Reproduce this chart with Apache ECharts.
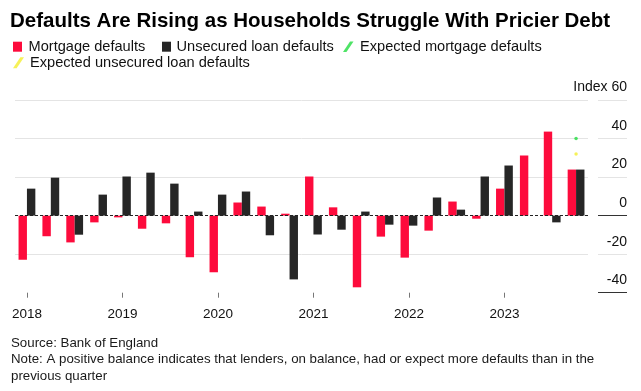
<!DOCTYPE html>
<html>
<head>
<meta charset="utf-8">
<script src="https://cdn.jsdelivr.net/npm/echarts@6/dist/echarts.min.js"></script>
<style>
html,body{margin:0;padding:0;background:#fff;}
#c{width:641px;height:391px;}
</style>
</head>
<body>
<div id="c"></div>
<script>
var categories = ['2018 Q1','2018 Q2','2018 Q3','2018 Q4','2019 Q1','2019 Q2','2019 Q3','2019 Q4',
  '2020 Q1','2020 Q2','2020 Q3','2020 Q4','2021 Q1','2021 Q2','2021 Q3','2021 Q4',
  '2022 Q1','2022 Q2','2022 Q3','2022 Q4','2023 Q1','2023 Q2','2023 Q3','2023 Q4'];
var mortgageDefaults = [-22.9, -10.7, -13.9, -3.5, -0.9, -6.8, -4.0, -21.6,
  -29.4, 6.8, 4.7, 1.0, 20.3, 4.3, -37.2, -10.9,
  -21.8, -7.8, 7.3, -1.6, 14.0, 31.2, 43.6, 23.9];
var unsecuredDefaults = [14.0, 19.7, -9.9, 10.9, 20.3, 22.3, 16.6, 2.1,
  10.9, 12.5, -10.2, -33.1, -9.8, -7.3, 2.1, -4.7,
  -5.2, 9.4, 3.1, 20.3, 26.0, 0, -3.5, 23.9];
var expectedMortgage = [['2023 Q4', 40]];
var expectedUnsecured = [['2023 Q4', 32]];
var yTicks = [-40, -20, 0, 20, 40, 60];

var RED = '#fd0b3c', BLACK = '#262626', GREEN = '#22dc40', YELLOW = '#f4ee2e';
var FONT = '"Liberation Sans", Arial, sans-serif';
var SLASH = 'path://M0,10 L3.3,10 L10,0 L6.7,0 Z';

function legendItem(name, icon, color, left, top, w, h, gap) {
  return {
    left: left, top: top, padding: 0, itemWidth: w, itemHeight: h,
    textStyle: {fontFamily: FONT, fontSize: 14.6, color: '#111', lineHeight: 16, padding: [0, 0, 0, gap]},
    data: [{name: name, icon: icon, itemStyle: {color: color}}]
  };
}

var chart = echarts.init(document.getElementById('c'), null, {renderer: 'canvas'});
var light = '#e4e4e4', dark = '#333';
chart.setOption({
  animation: false,
  backgroundColor: '#fff',
  title: {
    text: 'Defaults Are Rising as Households Struggle With Pricier Debt',
    left: 10, top: 10.5, padding: 0,
    textStyle: {fontFamily: FONT, fontWeight: 'bold', fontSize: 20.5, color: '#000'}
  },
  legend: [
    legendItem('Mortgage defaults', 'rect', RED, 13, 38.7, 9, 10, 1.5),
    legendItem('Unsecured loan defaults', 'rect', BLACK, 162, 38.7, 9, 10, 0.5),
    legendItem('Expected mortgage defaults', SLASH, GREEN, 343, 38.7, 10.5, 11, 1.5),
    legendItem('Expected unsecured loan defaults', SLASH, YELLOW, 13, 54.8, 11, 11, 1)
  ],
  grid: [
    {left: 15, width: 573, top: 100, height: 192.7},
    {left: 598, width: 29, top: 100, height: 192.7}
  ],
  xAxis: [{
    type: 'category', gridIndex: 0, data: categories,
    axisLine: {show: false, onZero: false},
    axisTick: {show: true, alignWithLabel: true, length: 5,
      interval: function (i) { return i % 4 === 0; },
      lineStyle: {color: '#777'}},
    axisLabel: {interval: function (i) { return i % 4 === 0; },
      formatter: function (v) { return v.split(' ')[0]; },
      margin: 15, fontFamily: FONT, fontSize: 13.5, color: '#111'},
    splitLine: {show: false}
  }, {
    type: 'value', gridIndex: 1, show: false, min: 0, max: 1
  }],
  yAxis: [{
    type: 'value', gridIndex: 0, min: yTicks[0], max: yTicks[yTicks.length - 1], interval: 20,
    axisLine: {show: false}, axisTick: {show: false}, axisLabel: {show: false},
    splitLine: {show: true, lineStyle: {color: ['transparent', light, 'transparent', light, light, light], width: 1}}
  }, {
    type: 'value', gridIndex: 1, position: 'right', min: yTicks[0], max: yTicks[yTicks.length - 1], interval: 20,
    axisLine: {show: false}, axisTick: {show: false},
    axisLabel: {inside: true, margin: 0, verticalAlign: 'bottom', padding: [0, 0, 5, 0],
      fontFamily: FONT, fontSize: 14, color: '#111', lineHeight: 15,
      formatter: function (v) { return v === 60 ? 'Index 60' : String(v); }},
    splitLine: {show: true, lineStyle: {color: [dark, light, dark, light, light, light], width: 1}}
  }],
  series: [{
    name: 'Mortgage defaults', type: 'bar', xAxisIndex: 0, yAxisIndex: 0,
    data: mortgageDefaults, barWidth: 8.4, barGap: '0%',
    itemStyle: {color: RED},
    markLine: {silent: true, symbol: 'none', z: 10,
      label: {show: false},
      lineStyle: {color: '#222', type: [3, 2], width: 1.2},
      data: [{yAxis: 0}]}
  }, {
    name: 'Unsecured loan defaults', type: 'bar', xAxisIndex: 0, yAxisIndex: 0,
    data: unsecuredDefaults, barWidth: 8.4, barGap: '0%',
    itemStyle: {color: BLACK}
  }, {
    name: 'Expected mortgage defaults', type: 'scatter', xAxisIndex: 0, yAxisIndex: 0,
    data: expectedMortgage, symbolSize: 3.5, itemStyle: {color: GREEN}, z: 5
  }, {
    name: 'Expected unsecured loan defaults', type: 'scatter', xAxisIndex: 0, yAxisIndex: 0,
    data: expectedUnsecured, symbolSize: 3.5, itemStyle: {color: YELLOW}, z: 5
  }],
  graphic: [
    {type: 'text', left: 11, top: 337, style: {text: 'Source: Bank of England', font: '13.3px ' + FONT, fill: '#1a1a1a'}},
    {type: 'text', left: 11, top: 353, style: {text: 'Note: A positive balance indicates that lenders, on balance, had or expect more defaults than in the', font: '13.3px ' + FONT, fill: '#1a1a1a'}},
    {type: 'text', left: 11, top: 370, style: {text: 'previous quarter', font: '13.3px ' + FONT, fill: '#1a1a1a'}}
  ]
});
</script>
</body>
</html>
